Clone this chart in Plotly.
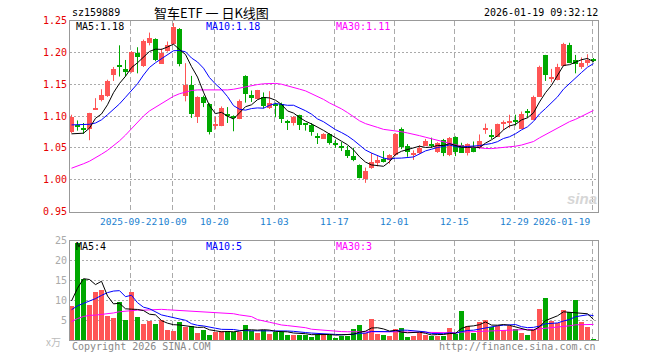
import plotly.graph_objects as go

# ---------------- data ----------------
dates = (["09-08", "09-09", "09-10", "09-11", "09-12", "09-15", "09-16", "09-17", "09-18", "09-19",
          "09-22", "09-23", "09-24", "09-25", "09-26", "09-29", "09-30",
          "10-09", "10-10", "10-13", "10-14", "10-15", "10-16", "10-17",
          "10-20", "10-21", "10-22", "10-23", "10-24", "10-27", "10-28", "10-29", "10-30", "10-31",
          "11-03", "11-04", "11-05", "11-06", "11-07", "11-10", "11-11", "11-12", "11-13", "11-14",
          "11-17", "11-18", "11-19", "11-20", "11-21", "11-24", "11-25", "11-26", "11-27", "11-28",
          "12-01", "12-02", "12-03", "12-04", "12-05", "12-08", "12-09", "12-10", "12-11", "12-12",
          "12-15", "12-16", "12-17", "12-18", "12-19", "12-22", "12-23", "12-24", "12-25", "12-26",
          "12-29", "12-30", "12-31",
          "01-05", "01-06", "01-07", "01-08", "01-09", "01-12", "01-13", "01-14", "01-15", "01-16",
          "01-19"])

opens = [1.076, 1.087, 1.082, 1.080, 1.111, 1.126, 1.132, 1.165, 1.179, 1.175,
         1.170, 1.199, 1.180, 1.215, 1.221, 1.183, 1.203, 1.214, 1.238, 1.132,
         1.150, 1.100, 1.130, 1.120, 1.086, 1.085, 1.102, 1.100, 1.096, 1.163,
         1.133, 1.127, 1.130, 1.114, 1.120, 1.120, 1.093, 1.090, 1.102, 1.088,
         1.087, 1.070, 1.065, 1.072, 1.057, 1.054, 1.047, 1.038, 1.024, 1.002,
         1.019, 1.028, 1.033, 1.032, 1.040, 1.081, 1.054, 1.040, 1.043, 1.054,
         1.057, 1.045, 1.063, 1.040, 1.068, 1.055, 1.043, 1.050, 1.050, 1.079,
         1.070, 1.068, 1.089, 1.090, 1.093, 1.081, 1.109, 1.095, 1.131, 1.196,
         1.159, 1.157, 1.180, 1.213, 1.188, 1.177, 1.184, 1.189]
highs = [1.102, 1.093, 1.089, 1.105, 1.128, 1.142, 1.157, 1.177, 1.211, 1.188,
         1.202, 1.208, 1.220, 1.231, 1.222, 1.206, 1.217, 1.246, 1.238, 1.183,
         1.163, 1.131, 1.132, 1.120, 1.099, 1.115, 1.114, 1.101, 1.126, 1.164,
         1.140, 1.141, 1.137, 1.139, 1.121, 1.121, 1.094, 1.100, 1.102, 1.089,
         1.089, 1.073, 1.073, 1.073, 1.063, 1.059, 1.053, 1.050, 1.024, 1.019,
         1.042, 1.037, 1.045, 1.040, 1.073, 1.082, 1.056, 1.046, 1.054, 1.064,
         1.066, 1.059, 1.064, 1.067, 1.068, 1.058, 1.057, 1.060, 1.071, 1.088,
         1.079, 1.088, 1.093, 1.102, 1.102, 1.107, 1.111, 1.132, 1.179, 1.196,
         1.174, 1.182, 1.215, 1.215, 1.196, 1.192, 1.197, 1.191]
lows = [1.073, 1.077, 1.072, 1.062, 1.111, 1.123, 1.130, 1.155, 1.162, 1.162,
        1.168, 1.167, 1.177, 1.211, 1.186, 1.182, 1.201, 1.212, 1.178, 1.123,
        1.097, 1.089, 1.114, 1.071, 1.079, 1.084, 1.089, 1.076, 1.095, 1.121,
        1.122, 1.126, 1.112, 1.111, 1.098, 1.089, 1.078, 1.085, 1.078, 1.077,
        1.069, 1.056, 1.065, 1.055, 1.050, 1.045, 1.034, 1.029, 1.002, 0.995,
        1.017, 1.021, 1.027, 1.025, 1.037, 1.048, 1.036, 1.031, 1.040, 1.053,
        1.050, 1.042, 1.037, 1.037, 1.037, 1.042, 1.038, 1.043, 1.048, 1.072,
        1.064, 1.067, 1.078, 1.081, 1.085, 1.081, 1.097, 1.094, 1.130, 1.155,
        1.153, 1.156, 1.178, 1.183, 1.167, 1.174, 1.179, 1.185]
closes = [1.099, 1.084, 1.080, 1.105, 1.114, 1.133, 1.156, 1.175, 1.178, 1.170,
          1.201, 1.194, 1.218, 1.224, 1.188, 1.199, 1.213, 1.240, 1.182, 1.149,
          1.104, 1.131, 1.121, 1.076, 1.087, 1.114, 1.101, 1.098, 1.125, 1.135,
          1.129, 1.141, 1.116, 1.121, 1.117, 1.096, 1.090, 1.099, 1.087, 1.087,
          1.075, 1.066, 1.072, 1.058, 1.056, 1.050, 1.038, 1.032, 1.004, 1.014,
          1.028, 1.031, 1.028, 1.040, 1.072, 1.052, 1.045, 1.043, 1.051, 1.062,
          1.054, 1.059, 1.042, 1.066, 1.045, 1.043, 1.057, 1.045, 1.062, 1.080,
          1.069, 1.088, 1.092, 1.093, 1.092, 1.104, 1.105, 1.131, 1.178, 1.165,
          1.162, 1.178, 1.214, 1.184, 1.182, 1.184, 1.188, 1.188]
volumes = [8.6, 24.6, 15.5, 8.8, 12.1, 12.8, 6.1, 5.6, 9.6, 5.1,
           12.3, 5.8, 4.2, 5.0, 4.25, 5.1, 2.6, 2.3, 4.6, 3.4,
           3.6, 1.9, 2.6, 1.3, 2.2, 2.3, 2.3, 2.2, 2.2, 3.8,
           2.3, 1.9, 2.75, 1.7, 2.2, 2.1, 1.5, 1.3, 1.5, 1.5,
           0.9, 1.5, 1.75, 1.3, 0.7, 1.25, 1.25, 2.8, 3.8, 1.9,
           5.3, 1.6, 1.3, 1.1, 2.8, 3.1, 0.8, 1.2, 1.9, 1.4,
           1.1, 1.25, 1.25, 3.1, 1.7, 7.3, 3.75, 1.9, 4.6, 5.1,
           3.4, 3.6, 2.75, 3.6, 2.9, 1.9, 1.3, 2.6, 7.8, 10.8,
           4.8, 4.4, 7.6, 7.25, 10.1, 4.6, 3.4, 0.4]

ma5_head = [1.072, 1.072, 1.073, 1.081]
ma10_head = [1.086, 1.086, 1.086, 1.087, 1.089, 1.094, 1.102, 1.110, 1.119]
ma30_head = [1.018, 1.021, 1.025, 1.029, 1.034, 1.040, 1.046, 1.053, 1.061, 1.070,
             1.080, 1.090, 1.100, 1.108, 1.114, 1.120, 1.126, 1.131, 1.135, 1.138,
             1.140, 1.141, 1.141, 1.140, 1.140, 1.141, 1.141, 1.142, 1.144]
vma5_head = [9.8, 13.0, 15.4, 15.2]
vma10_head = [7.6, 8.6, 9.2, 9.8, 10.4, 11.2, 11.9, 12.3, 12.4]
vma30_head = [4.6, 5.4, 5.9, 6.2, 6.25, 6.4, 6.6, 6.8, 7.1, 7.25,
              7.4, 7.5, 7.5, 7.6, 7.7, 7.7, 7.6, 7.5, 7.5, 7.4,
              7.25, 7.2, 7.1, 7.0, 6.9, 6.8, 6.75, 6.6, 6.3]

tick_dates = ["09-22", "10-09", "10-20", "11-03", "11-17", "12-01", "12-15", "12-29", "01-19"]
tick_labels = ["2025-09-22", "10-09", "10-20", "11-03", "11-17", "12-01", "12-15", "12-29", "2026-01-19"]
price_ticks = [0.95, 1.00, 1.05, 1.10, 1.15, 1.20, 1.25]
vol_ticks = [5, 10, 15, 20, 25]

code = "sz159889"
title = "智车ETF\u00a0一\u00a0日K线图"
stamp = "2026-01-19 09:32:12"
ma_price_labels = ["MA5:1.18", "MA10:1.18", "MA30:1.11"]
ma_vol_labels = ["MA5:4", "MA10:5", "MA30:3"]


def moving_avg(vals, n, head):
    out = []
    for i in range(len(vals)):
        if i < n - 1:
            out.append(head[i])
        else:
            out.append(sum(vals[i - n + 1:i + 1]) / n)
    return out


# ---------------- styling ----------------
UP = "#ff5555"
DN = "#00a800"
MONO = "DejaVu Sans Mono"
W, H = 660, 360
L, R, T, B = 70, 62, 20, 20
PW, PH = W - L - R, H - T - B


def fx(px):
    return (px - L) / PW


def fy(py):
    return (H - B - py) / PH


n = len(closes)
idx = list(range(n))
up = [closes[i] >= opens[i] for i in idx]

fig = go.Figure()

# wicks
for flag, col in ((True, UP), (False, DN)):
    wx, wy = [], []
    for i in idx:
        if up[i] == flag:
            wx += [i, i, None]
            wy += [lows[i], highs[i], None]
    fig.add_trace(go.Scatter(x=wx, y=wy, mode="lines", line=dict(color=col, width=1),
                             hoverinfo="skip", showlegend=False, xaxis="x", yaxis="y"))

# bodies
for flag, col in ((True, UP), (False, DN)):
    bx = [i for i in idx if up[i] == flag]
    base = [min(opens[i], closes[i]) for i in bx]
    hgt = [max(abs(closes[i] - opens[i]), 0.0016) for i in bx]
    fig.add_trace(go.Bar(x=bx, y=hgt, base=base, width=5 / 6, marker=dict(color=col, line=dict(width=0)),
                         hoverinfo="skip", showlegend=False, xaxis="x", yaxis="y"))

# price MAs
for vals, col in ((moving_avg(closes, 30, ma30_head), "#ff00ff"),
                  (moving_avg(closes, 10, ma10_head), "#0000ff"),
                  (moving_avg(closes, 5, ma5_head), "#000000")):
    fig.add_trace(go.Scatter(x=idx, y=vals, mode="lines", line=dict(color=col, width=1),
                             hoverinfo="skip", showlegend=False, xaxis="x", yaxis="y"))

# volume bars
fig.add_trace(go.Bar(x=idx, y=volumes, width=5 / 6,
                     marker=dict(color=[UP if u else DN for u in up], line=dict(width=0)),
                     hoverinfo="skip", showlegend=False, xaxis="x2", yaxis="y2"))
for vals, col in ((moving_avg(volumes, 30, vma30_head), "#ff00ff"),
                  (moving_avg(volumes, 10, vma10_head), "#0000ff"),
                  (moving_avg(volumes, 5, vma5_head), "#000000")):
    fig.add_trace(go.Scatter(x=idx, y=vals, mode="lines", line=dict(color=col, width=1),
                             hoverinfo="skip", showlegend=False, xaxis="x2", yaxis="y2"))

tickpos = [dates.index(d) - 0.25 for d in tick_dates]
xr = [-0.25, n - 0.25]

common_x = dict(range=xr, tickvals=tickpos, showgrid=True, gridcolor="#aaaaaa", griddash="5px,3px",
                gridwidth=1, showline=True, mirror=True, linecolor="#999999", linewidth=1,
                ticks="", zeroline=False, tickangle=0, fixedrange=True, showticklabels=False)
common_y = dict(showgrid=True, gridcolor="#aaaaaa", griddash="2px,2px", gridwidth=1,
                showline=True, mirror=True, linecolor="#999999", linewidth=1,
                ticks="", zeroline=False, fixedrange=True)

py_top, py_bot = 20.5, 211.5
vy_top, vy_bot = 240.5, 340.0

fig.update_layout(
    width=W, height=H,
    margin=dict(l=L, r=R, t=T, b=B, pad=0),
    paper_bgcolor="white", plot_bgcolor="white",
    barmode="overlay", bargap=0,
    showlegend=False,
    xaxis=dict(common_x, anchor="y", domain=[0, 1]),
    yaxis=dict(common_y, domain=[fy(py_bot), fy(py_top)], range=[0.95, 1.25], tickvals=price_ticks,
               tickformat=".2f", tickfont=dict(family=MONO, size=10, color="#e60000")),
    xaxis2=dict(common_x, anchor="y2", domain=[0, 1]),
    yaxis2=dict(common_y, domain=[0, fy(vy_top)], range=[0, 25], tickvals=vol_ticks,
                tickfont=dict(family=MONO, size=10, color="#aaaaaa")),
)

# date labels under the price panel, placed on the x axis scale
last = len(tick_labels) - 1
for j, (pos, lab) in enumerate(zip(tickpos, tick_labels)):
    fig.add_annotation(text=lab, x=pos, xref="x", y=fy(221), yref="paper",
                       xanchor="right" if j == last else "center", yanchor="middle",
                       xshift=-1.5 if j == 0 else 0, showarrow=False,
                       font=dict(family=MONO, size=9.5, color="#1a7fd0"))


def ann(text, px, py, color, size=10, xanchor="left", family=MONO, **kw):
    fig.add_annotation(text=text, x=fx(px), y=fy(py), xref="paper", yref="paper",
                       xanchor=xanchor, yanchor="middle", showarrow=False,
                       font=dict(family=family, size=size, color=color), **kw)


ann(code, 70, 13, "#000000")
ann(title, 211, 13, "#000000", size=13, xanchor="center", family="Noto Sans CJK SC")
ann(stamp, 600, 13, "#000000", xanchor="right")

ann(ma_price_labels[0], 74, 26.5, "#000000")
ann(ma_price_labels[1], 204, 26.5, "#0000ff")
ann(ma_price_labels[2], 334, 26.5, "#ff00ff")

ann(ma_vol_labels[0], 74, 246.5, "#000000")
ann(ma_vol_labels[1], 204, 246.5, "#0000ff")
ann(ma_vol_labels[2], 334, 246.5, "#ff00ff")

ann("x万", 63, 341, "#bbbbbb", xanchor="right", family="Noto Sans CJK SC")
ann("Copyright 2026 SINA.COM", 70, 346, "#888888")
ann("http://finance.sina.com.cn", 598, 346, "#888888", xanchor="right")
ann("<i><b>sina</b></i>", 582, 198, "#d6d6d6", size=15, xanchor="center", family="Arial")

fig.write_html("out.html")
